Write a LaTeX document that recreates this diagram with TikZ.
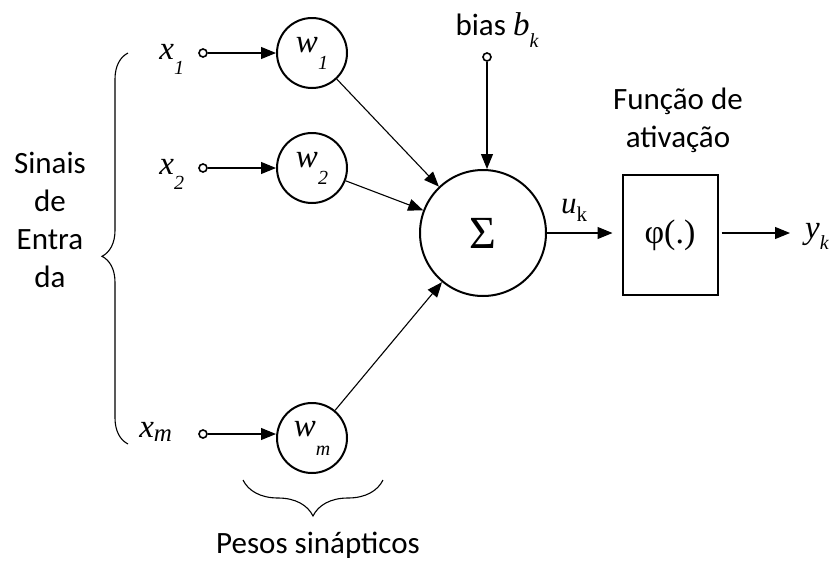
\documentclass[tikz,border=0pt]{standalone}
\usepackage{fontspec}
\setmainfont{Carlito}
\newfontfamily\tnr{Liberation Serif}
\usetikzlibrary{arrows.meta, positioning, decorations.pathreplacing}

% italic letter with lowered subscript (Times style)
\newcommand{\isub}[3][17pt]{{\tnr\itshape\fontsize{33}{33}\selectfont #2}\raisebox{-#1}{\tnr\itshape\fontsize{20}{20}\selectfont #3}}

\tikzset{
  weight/.style={draw, circle, line width=2pt, minimum size=70pt, inner sep=0pt},
  inpoint/.style={draw, circle, line width=1.6pt, fill=white, minimum size=8pt, inner sep=0pt},
  sig/.style={-{Triangle[length=15pt,width=12pt]}, line width=1.1pt},
  txt/.style={font=\fontsize{31}{38}\selectfont, align=center},
  brace/.style={decorate, line width=1.1pt}
}

\begin{document}
\begin{tikzpicture}[x=1pt, y=-1pt]
    \useasboundingbox (0,0) rectangle (836,563);

    % Weights
    \node (w1) [weight] at (312,53) {\isub{w}{1}};
    \node (w2) [weight] at (312,168) {\isub{w}{2}};
    \node (wm) [weight] at (312,438) {\isub[19pt]{w}{m}};

    % Inputs
    \node (in1) [inpoint] at (203,53) {};
    \node (in2) [inpoint] at (203,168) {};
    \node (inm) [inpoint] at (203,434) {};
    \node (x1) [left=14pt of in1, inner sep=0pt, yshift=-6pt] {\isub[15pt]{x}{1}};
    \node (x2) [left=14pt of in2, inner sep=0pt, yshift=-6pt] {\isub[15pt]{x}{2}};
    \node (xm) [left=26pt of inm, inner sep=0pt, yshift=2pt] {\isub[4pt]{x}{\fontsize{25}{25}\selectfont m}};

    % Summing junction and activation
    \node (sum) [weight, minimum size=126pt] at (483,233) {\tnr\fontsize{46}{46}\selectfont Σ};
    \node (phi) [draw, line width=2pt, minimum width=95pt, minimum height=120pt] at (670,235) {\tnr\fontsize{34}{34}\selectfont φ(.)};

    % Bias
    \node (bias) [inpoint] at (487,57) {};
    \node (biaslbl) [inner sep=0pt] at (497,30) {\fontsize{31}{31}\selectfont bias \isub[12pt]{b}{k}};

    % Labels
    \node (uk) [inner sep=0pt] at (574,210) {{\tnr\itshape\fontsize{31}{31}\selectfont u}\raisebox{-8pt}{\tnr\fontsize{21}{21}\selectfont k}};
    \node (yk) [anchor=west, inner sep=0pt] at (805,236) {\isub[11pt]{y}{k}};
    \node (func) [txt] at (678,120) {Função de\\ativação};
    \node (sinais) [txt] at (50,220) {Sinais\\de\\Entra\\da};
    \node (pesos) [txt] at (318,545) {Pesos sinápticos};

    % Arrows
    \draw[sig] (in1) -- (w1);
    \draw[sig] (in2) -- (w2);
    \draw[sig] (inm) -- (inm -| wm.west);
    \draw[sig] (w1) -- (sum);
    \draw[sig] (w2) -- (sum);
    \draw[sig] (wm) -- (sum);
    \draw[sig] (bias) -- (bias |- sum.north);
    \draw[sig, shorten >=9pt] (sum.east) -- (sum.east -| phi.west);
    \draw[sig, shorten <=3pt, shorten >=15pt] (sum.east -| phi.east) -- (sum.east -| yk.west);

    % Braces
    \draw[brace, decoration={brace, amplitude=26pt, aspect=0.48}] (128,444) -- (128,53);
    \draw[brace, decoration={brace, amplitude=36pt}] (383,480) -- (243,480);
\end{tikzpicture}
\end{document}
